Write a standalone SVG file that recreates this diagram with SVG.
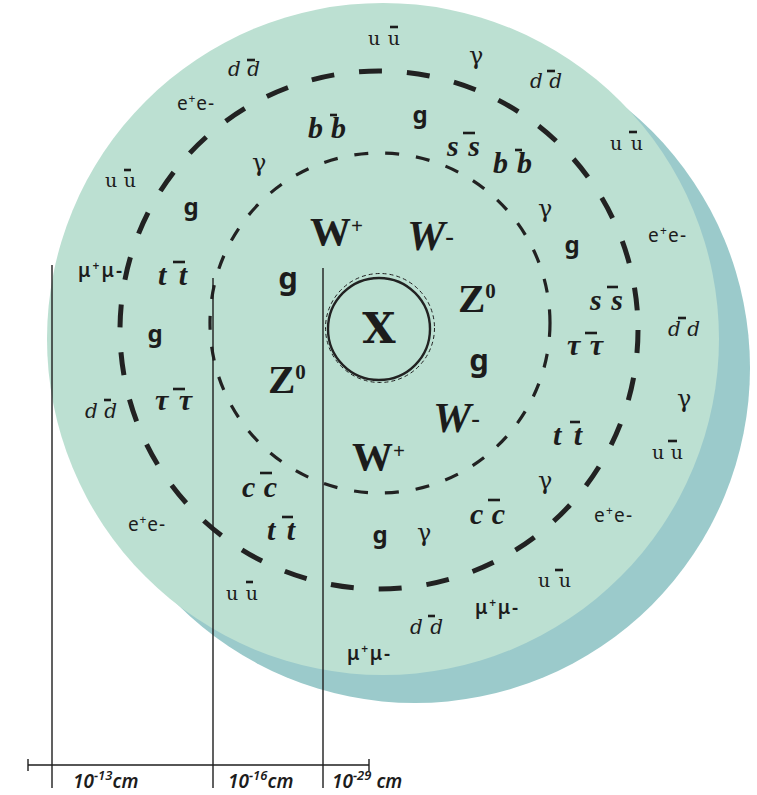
<svg xmlns="http://www.w3.org/2000/svg" width="757" height="795" viewBox="0 0 757 795">
<style>
text{fill:#1c1c1c}
.ur{font-family:"DejaVu Serif",serif;font-size:19px}
.it{font-family:"DejaVu Serif",serif;font-style:italic;font-size:20px}
.bi{font-family:"Liberation Serif",serif;font-style:italic;font-weight:bold;font-size:30px}
.gm{font-family:"DejaVu Serif",serif;font-size:24px}
.g{font-family:"Noto Sans",sans-serif;font-weight:bold;font-size:24px;text-anchor:middle}
.gb{font-family:"Noto Sans",sans-serif;font-weight:bold;font-size:31px;text-anchor:middle}
.lep{font-family:"Noto Sans",sans-serif;font-size:19px}
.mu{font-family:"Noto Sans",sans-serif;font-weight:600;font-size:19px}
.big{font-family:"Liberation Serif",serif;font-weight:bold;font-size:41px}
.bigi{font-family:"Liberation Serif",serif;font-style:italic;font-weight:bold;font-size:43px}
.ax{font-family:"Noto Sans",sans-serif;font-style:italic;font-weight:600;font-size:19px}
.bar{stroke:#1c1c1c;stroke-width:2.6}
.ring{fill:none;stroke:#222}
.vl{stroke:#1e1e1e;stroke-width:1.4;fill:none}
</style>
<g id="disc">
<circle cx="415" cy="368" r="335" fill="#9bcacb"/>
<circle cx="383" cy="339" r="336" fill="#bce0d2"/>
</g>
<g id="connectors">
<circle class="ring" cx="379" cy="330" r="259" stroke-width="5" stroke-dasharray="23 25"/>
<circle class="ring" cx="380" cy="323" r="170" stroke-width="3.2" stroke-dasharray="14 17"/>
<circle class="ring" cx="379" cy="329" r="51" stroke-width="2.4"/>
<circle class="ring" cx="380" cy="328" r="54.5" stroke-width="1" stroke-dasharray="4 3"/>
<line class="vl" x1="52" y1="265" x2="52" y2="788"/>
<line class="vl" x1="213" y1="278" x2="213" y2="788"/>
<line class="vl" x1="323" y1="268" x2="323" y2="788"/>
<line class="vl" x1="28" y1="765" x2="369" y2="765" stroke-width="1.6"/>
<line class="vl" x1="28" y1="759" x2="28" y2="771"/>
<line class="vl" x1="369" y1="759" x2="369" y2="771"/>
</g>
<g id="center-X"><text x="379" y="343" text-anchor="middle" font-family="DejaVu Serif,serif" font-weight="bold" font-size="43">X</text></g>
<g id="inner">
<g id="Wp1"><text class="big" x="310" y="245">W<tspan font-size="21" dy="-12">+</tspan></text></g>
<g id="Wm1"><text class="bigi" x="407" y="250">W<tspan font-size="26" font-style="normal" dy="-5">-</tspan></text></g>
<g id="Z1"><text class="big" x="458" y="312" font-size="39">Z<tspan font-size="21" dy="-14">0</tspan></text></g>
<g id="Z2"><text class="big" x="268" y="393" font-size="39">Z<tspan font-size="21" dy="-14">0</tspan></text></g>
<g id="Wm2"><text class="bigi" x="433" y="432">W<tspan font-size="26" font-style="normal" dy="-5">-</tspan></text></g>
<g id="Wp2"><text class="big" x="352" y="470">W<tspan font-size="21" dy="-12">+</tspan></text></g>
<g id="gI1"><text class="gb" x="288" y="289">g</text></g>
<g id="gI2"><text class="gb" x="479" y="371">g</text></g>
</g>
<g id="middle">
<g id="bb1"><text class="bi" x="308" y="138" textLength="38">b b</text><line class="bar" x1="330" y1="115" x2="337" y2="115"/></g>
<g id="gM1"><text class="g" x="420" y="123">g</text></g>
<g id="ss1"><text class="bi" x="447" y="156" textLength="33">s s</text><line class="bar" x1="463" y1="133" x2="475" y2="133"/></g>
<g id="bb2"><text class="bi" x="493" y="173" textLength="39">b b</text><line class="bar" x1="515" y1="150" x2="522" y2="150"/></g>
<g id="gmM1"><text class="gm" x="252" y="171">γ</text></g>
<g id="gM2"><text class="g" x="191" y="215">g</text></g>
<g id="gmM2"><text class="gm" x="538" y="217">γ</text></g>
<g id="gM3"><text class="g" x="572" y="253">g</text></g>
<g id="tt1"><text class="bi" x="158" y="285" textLength="29">t t</text><line class="bar" x1="173" y1="262" x2="185" y2="262"/></g>
<g id="ss2"><text class="bi" x="590" y="310" textLength="33">s s</text><line class="bar" x1="607" y1="287" x2="618" y2="287"/></g>
<g id="gM4"><text class="g" x="155" y="342">g</text></g>
<g id="tau1"><text class="bi" x="567" y="355" textLength="36">τ τ</text><line class="bar" x1="585" y1="333" x2="597" y2="333"/></g>
<g id="tau2"><text class="bi" x="155" y="410" textLength="37">τ τ</text><line class="bar" x1="173" y1="389" x2="185" y2="389"/></g>
<g id="tt2"><text class="bi" x="553" y="445" textLength="29">t t</text><line class="bar" x1="570" y1="422" x2="580" y2="422"/></g>
<g id="gmM3"><text class="gm" x="538" y="489">γ</text></g>
<g id="cc1"><text class="bi" x="242" y="497" textLength="35">c c</text><line class="bar" x1="260" y1="473" x2="272" y2="473"/></g>
<g id="cc2"><text class="bi" x="470" y="524" textLength="35">c c</text><line class="bar" x1="488" y1="500" x2="500" y2="500"/></g>
<g id="tt3"><text class="bi" x="267" y="540" textLength="28">t t</text><line class="bar" x1="282" y1="517" x2="293" y2="517"/></g>
<g id="gM5"><text class="g" x="380" y="543">g</text></g>
<g id="gmM4"><text class="gm" x="417" y="541">γ</text></g>
</g>
<g id="outer">
<g id="uu1"><text class="ur" x="368" y="45" textLength="32">u u</text><line class="bar" x1="390" y1="27" x2="398" y2="27"/></g>
<g id="gmO1"><text class="gm" x="469" y="64">γ</text></g>
<g id="dd1"><text class="it" x="530" y="88" textLength="32">d d</text><line class="bar" x1="547" y1="71" x2="555" y2="71"/></g>
<g id="dd2"><text class="it" x="228" y="76" textLength="32">d d</text><line class="bar" x1="247" y1="60" x2="255" y2="60"/></g>
<g id="ee1"><text class="lep" x="177" y="110" textLength="37">e<tspan font-size="12" dy="-7">+</tspan><tspan dy="7">e-</tspan></text></g>
<g id="uu2"><text class="ur" x="610" y="150" textLength="33">u u</text><line class="bar" x1="629" y1="132" x2="637" y2="132"/></g>
<g id="uu3"><text class="ur" x="105" y="187" textLength="31">u u</text><line class="bar" x1="124" y1="170" x2="131" y2="170"/></g>
<g id="ee2"><text class="lep" x="648" y="242" textLength="38">e<tspan font-size="12" dy="-7">+</tspan><tspan dy="7">e-</tspan></text></g>
<g id="mm1"><text class="mu" x="78" y="277" textLength="44">μ<tspan font-size="12" dy="-7">+</tspan><tspan dy="7">μ-</tspan></text></g>
<g id="dd3"><text class="it" x="668" y="336" textLength="32">d d</text><line class="bar" x1="678" y1="318" x2="686" y2="318"/></g>
<g id="gmO2"><text class="gm" x="677" y="407">γ</text></g>
<g id="dd4"><text class="it" x="85" y="418" textLength="32">d d</text><line class="bar" x1="104" y1="400" x2="111" y2="400"/></g>
<g id="uu4"><text class="ur" x="652" y="459" textLength="31">u u</text><line class="bar" x1="668" y1="441" x2="677" y2="441"/></g>
<g id="ee3"><text class="lep" x="594" y="522" textLength="38">e<tspan font-size="12" dy="-7">+</tspan><tspan dy="7">e-</tspan></text></g>
<g id="ee4"><text class="lep" x="128" y="531" textLength="37">e<tspan font-size="12" dy="-7">+</tspan><tspan dy="7">e-</tspan></text></g>
<g id="uu5"><text class="ur" x="538" y="587" textLength="33">u u</text><line class="bar" x1="555" y1="570" x2="563" y2="570"/></g>
<g id="uu6"><text class="ur" x="226" y="600" textLength="32">u u</text><line class="bar" x1="246" y1="582" x2="253" y2="582"/></g>
<g id="mm2"><text class="mu" x="475" y="614" textLength="43">μ<tspan font-size="12" dy="-7">+</tspan><tspan dy="7">μ-</tspan></text></g>
<g id="dd5"><text class="it" x="410" y="634" textLength="33">d d</text><line class="bar" x1="428" y1="616" x2="435" y2="616"/></g>
<g id="mm3"><text class="mu" x="347" y="660" textLength="43">μ<tspan font-size="12" dy="-7">+</tspan><tspan dy="7">μ-</tspan></text></g>
</g>
<g id="axis-labels">
<text class="ax" x="73" y="788">10<tspan font-size="13" dy="-8">−13</tspan><tspan dy="8">cm</tspan></text>
<text class="ax" x="228" y="788">10<tspan font-size="13" dy="-8">−16</tspan><tspan dy="8">cm</tspan></text>
<text class="ax" x="332" y="788">10<tspan font-size="13" dy="-8">−29</tspan><tspan dy="8"> cm</tspan></text>
</g>
</svg>
